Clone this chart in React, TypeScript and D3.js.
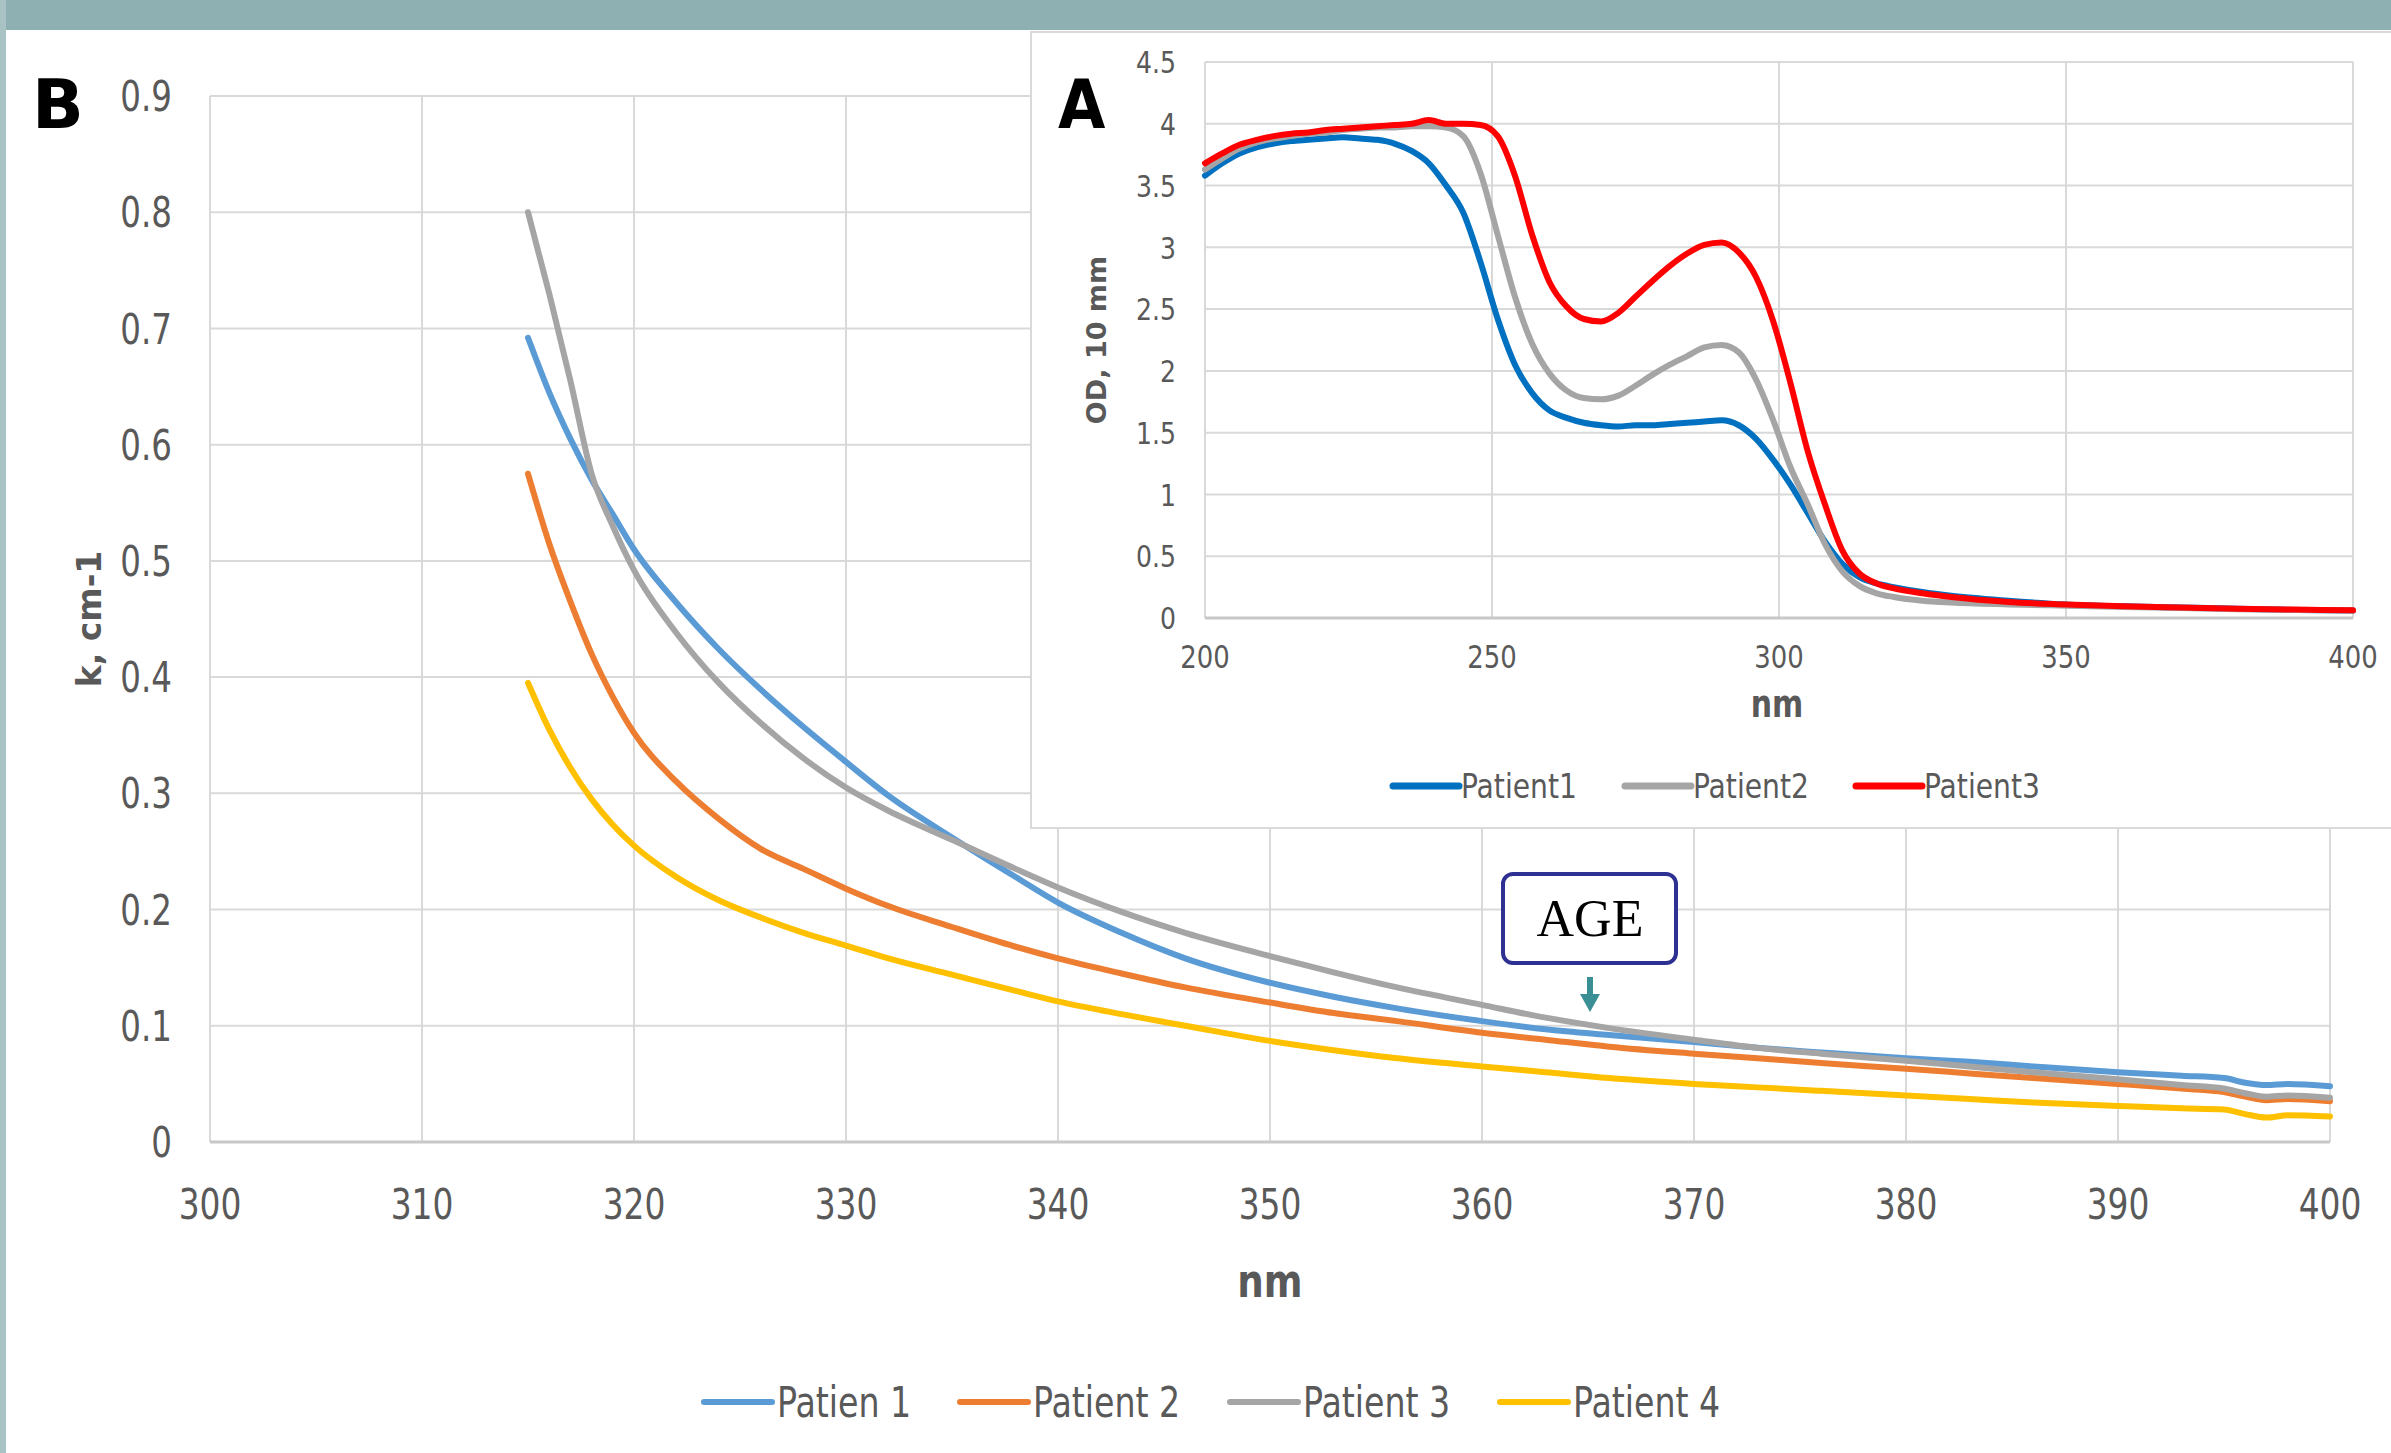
import React from 'react';
import * as d3 from 'd3';

// main chart (B) - absorption coefficient, 315..400 nm
const nmB = [315, 316, 317, 318, 319, 320, 322, 324, 326, 328, 330, 332, 335, 338, 340, 343, 346, 350, 353, 356, 360, 363, 366, 370, 373, 376, 380, 383, 386, 390, 393, 395, 396, 397, 398, 400];
const patien1 = [0.692, 0.645, 0.605, 0.57, 0.54, 0.51, 0.464, 0.424, 0.389, 0.357, 0.327, 0.298, 0.262, 0.228, 0.206, 0.18, 0.158, 0.137, 0.125, 0.115, 0.104, 0.097, 0.092, 0.086, 0.081, 0.077, 0.072, 0.069, 0.065, 0.06, 0.057, 0.055, 0.051, 0.049, 0.05, 0.048];
const patient2 = [0.575, 0.515, 0.465, 0.42, 0.383, 0.352, 0.31, 0.278, 0.252, 0.235, 0.218, 0.203, 0.185, 0.168, 0.158, 0.145, 0.133, 0.12, 0.111, 0.104, 0.094, 0.088, 0.082, 0.076, 0.072, 0.068, 0.063, 0.059, 0.055, 0.05, 0.046, 0.043, 0.039, 0.036, 0.037, 0.035];
const patient3 = [0.8, 0.73, 0.655, 0.575, 0.53, 0.492, 0.438, 0.395, 0.36, 0.33, 0.305, 0.285, 0.26, 0.235, 0.219, 0.198, 0.18, 0.16, 0.146, 0.133, 0.118, 0.107, 0.098, 0.088, 0.081, 0.076, 0.07, 0.065, 0.06, 0.054, 0.049, 0.046, 0.042, 0.039, 0.04, 0.038];
const patient4 = [0.395, 0.355, 0.322, 0.295, 0.273, 0.255, 0.228, 0.208, 0.193, 0.18, 0.169, 0.158, 0.144, 0.13, 0.121, 0.11, 0.1, 0.087, 0.079, 0.072, 0.065, 0.06, 0.055, 0.05, 0.047, 0.044, 0.04, 0.037, 0.034, 0.031, 0.029, 0.028, 0.024, 0.021, 0.023, 0.022];
const seriesB = [
  { name: 'Patien 1', values: patien1, color: '#5b9bd5' },
  { name: 'Patient 2', values: patient2, color: '#ed7d31' },
  { name: 'Patient 3', values: patient3, color: '#a5a5a5' },
  { name: 'Patient 4', values: patient4, color: '#ffc000' },
];
const xTicksB = [300, 310, 320, 330, 340, 350, 360, 370, 380, 390, 400];
const yTicksB = [0, 0.1, 0.2, 0.3, 0.4, 0.5, 0.6, 0.7, 0.8, 0.9];

// inset (A) - optical density, 200..400 nm
const nmA = [200, 203, 206, 209, 212, 215, 218, 221, 224, 227, 230, 233, 236, 239, 242, 245, 248, 251, 254, 257, 260, 263, 266, 269, 272, 275, 278, 281, 284, 287, 290, 293, 296, 299, 302, 305, 308, 311, 314, 317, 320, 325, 330, 340, 350, 360, 370, 380, 390, 400];
const odPatient1 = [3.58, 3.68, 3.76, 3.81, 3.84, 3.86, 3.87, 3.88, 3.89, 3.88, 3.87, 3.84, 3.78, 3.68, 3.5, 3.28, 2.88, 2.42, 2.05, 1.82, 1.68, 1.62, 1.58, 1.56, 1.55, 1.56, 1.56, 1.57, 1.58, 1.59, 1.6, 1.56, 1.45, 1.28, 1.08, 0.85, 0.62, 0.44, 0.33, 0.28, 0.25, 0.21, 0.18, 0.14, 0.11, 0.095, 0.085, 0.075, 0.065, 0.06];
const odPatient2 = [3.63, 3.72, 3.8, 3.85, 3.88, 3.9, 3.92, 3.93, 3.95, 3.96, 3.97, 3.97, 3.98, 3.98, 3.97, 3.9, 3.6, 3.1, 2.6, 2.22, 1.98, 1.84, 1.78, 1.77, 1.8, 1.88, 1.97, 2.05, 2.12, 2.19, 2.21, 2.15, 1.93, 1.6, 1.22, 0.92, 0.6, 0.38, 0.26, 0.2, 0.17, 0.14, 0.125, 0.11, 0.1, 0.09, 0.08, 0.07, 0.065, 0.06];
const odPatient3 = [3.68, 3.76, 3.83, 3.87, 3.9, 3.92, 3.93, 3.95, 3.96, 3.97, 3.98, 3.99, 4.0, 4.03, 4.0, 4.0, 3.99, 3.9, 3.58, 3.1, 2.72, 2.52, 2.42, 2.4, 2.47, 2.6, 2.73, 2.85, 2.95, 3.02, 3.04, 2.96, 2.76, 2.4, 1.9, 1.35, 0.92, 0.55, 0.36, 0.28, 0.24, 0.2, 0.17, 0.13, 0.11, 0.095, 0.085, 0.075, 0.068, 0.062];
const seriesA = [
  { name: 'Patient1', values: odPatient1, color: '#0070c0' },
  { name: 'Patient2', values: odPatient2, color: '#a5a5a5' },
  { name: 'Patient3', values: odPatient3, color: '#ff0000' },
];
const xTicksA = [200, 250, 300, 350, 400];
const yTicksA = [0, 0.5, 1, 1.5, 2, 2.5, 3, 3.5, 4, 4.5];

const W = 2391;
const H = 1453;
const narrow = '"Liberation Sans Narrow", "DejaVu Sans Condensed", "Roboto Condensed", sans-serif';
const wide = '"DejaVu Sans", Verdana, sans-serif';
const textGray = '#595959';
const grid = '#d9d9d9';

// squeezed text, the original uses a tall narrow font
function CText({ x, y, size, sx = 0.85, anchor = 'start', bold = false, mid = false, children }: any) {
  return (
    <text
      transform={`translate(${x},${y}) scale(${sx},1)`}
      dy={mid ? '0.36em' : undefined}
      textAnchor={anchor}
      fontFamily={narrow}
      fontWeight={bold ? 'bold' : 'normal'}
      fontSize={size}
      fill={textGray}
    >
      {children}
    </text>
  );
}

export default function App() {
  // main plot B
  const xB = d3.scaleLinear().domain([300, 400]).range([210, 2330]);
  const yB = d3.scaleLinear().domain([0, 0.9]).range([1142, 96]);
  const lineB = (vals: number[]) =>
    d3.line<number>().x((_, i) => xB(nmB[i])).y(d => yB(d)).curve(d3.curveMonotoneX)(vals) || '';

  // inset A
  const xA = d3.scaleLinear().domain([200, 400]).range([1205, 2353]);
  const yA = d3.scaleLinear().domain([0, 4.5]).range([618, 62]);
  const lineA = (vals: number[]) =>
    d3.line<number>().x((_, i) => xA(nmA[i])).y(d => yA(d)).curve(d3.curveMonotoneX)(vals) || '';

  const legendB = [704, 960, 1230, 1500];
  const legendA = [1393, 1625, 1856];

  return (
    <svg width={W} height={H} style={{ position: 'absolute', left: 0, top: 0, display: 'block', background: '#fff' }}>
      {/* frame */}
      <rect x={0} y={0} width={W} height={30} fill="#8fb0b3" />
      <rect x={0} y={0} width={6} height={H} fill="#a9c3c5" />

      {/* B gridlines */}
      {xTicksB.map(t => (
        <line key={'bx' + t} x1={xB(t)} x2={xB(t)} y1={yB(0.9)} y2={yB(0)} stroke={grid} strokeWidth={2} />
      ))}
      {yTicksB.map(t => (
        <line key={'by' + t} x1={xB(300)} x2={xB(400)} y1={yB(t)} y2={yB(t)} stroke={t === 0 ? '#c8c8c8' : grid} strokeWidth={t === 0 ? 3 : 2} />
      ))}
      {yTicksB.map(t => (
        <CText key={'byl' + t} x={172} y={yB(t)} mid anchor="end" size={42} sx={0.86}>
          {t === 0 ? '0' : t.toFixed(1)}
        </CText>
      ))}
      {xTicksB.map(t => (
        <CText key={'bxl' + t} x={xB(t)} y={1219} anchor="middle" size={43} sx={0.85}>
          {t}
        </CText>
      ))}
      <CText x={1270} y={1297} anchor="middle" size={47} sx={0.88} bold>nm</CText>
      <text transform={`translate(101,${yB(0.45)}) rotate(-90)`} textAnchor="middle" fontFamily={wide} fontWeight="bold" fontSize={33} fill={textGray}>k, cm-1</text>
      <text x={32} y={128} fontFamily={wide} fontWeight="bold" fontSize={68} fill="#000">B</text>

      {seriesB.map(s => (
        <path key={s.name} d={lineB(s.values)} fill="none" stroke={s.color} strokeWidth={6} strokeLinejoin="round" strokeLinecap="round" />
      ))}

      {/* B legend */}
      {seriesB.map((s, i) => (
        <g key={'lb' + s.name} transform={`translate(${legendB[i]},1402)`}>
          <line x1={0} x2={68} y1={0} y2={0} stroke={s.color} strokeWidth={6} strokeLinecap="round" />
          <CText x={73} y={0} mid size={42} sx={0.88}>{s.name}</CText>
        </g>
      ))}

      {/* AGE callout */}
      <rect x={1503} y={874} width={173} height={89} rx={10} ry={10} fill="#fff" stroke="#2e3192" strokeWidth={4} />
      <text x={1590} y={936} textAnchor="middle" fontFamily='"Liberation Serif", "DejaVu Serif", serif' fontSize={52} fill="#000">AGE</text>
      <line x1={1590} x2={1590} y1={977} y2={995} stroke="#3a8f94" strokeWidth={6} />
      <path d="M1580,994 L1600,994 L1590,1012 Z" fill="#3a8f94" />

      {/* inset A */}
      <rect x={1031} y={32} width={1380} height={796} fill="#fff" stroke="#d9d9d9" strokeWidth={2} />
      {xTicksA.map(t => (
        <line key={'ax' + t} x1={xA(t)} x2={xA(t)} y1={yA(4.5)} y2={yA(0)} stroke={grid} strokeWidth={2} />
      ))}
      {yTicksA.map(t => (
        <line key={'ay' + t} x1={xA(200)} x2={xA(400)} y1={yA(t)} y2={yA(t)} stroke={t === 0 ? '#c8c8c8' : grid} strokeWidth={t === 0 ? 3 : 2} />
      ))}
      {yTicksA.map(t => (
        <CText key={'ayl' + t} x={1176} y={yA(t)} mid anchor="end" size={31} sx={0.9}>{t}</CText>
      ))}
      {xTicksA.map(t => (
        <CText key={'axl' + t} x={xA(t)} y={668} anchor="middle" size={32} sx={0.9}>{t}</CText>
      ))}
      <CText x={1777} y={717} anchor="middle" size={37} sx={0.9} bold>nm</CText>
      <text transform={`translate(1106,${yA(2.25)}) rotate(-90)`} textAnchor="middle" fontFamily={wide} fontWeight="bold" fontSize={27} fill={textGray}>OD, 10 mm</text>
      <text x={1058} y={128} fontFamily={narrow} fontWeight="bold" fontSize={68} fill="#000">A</text>

      {seriesA.map(s => (
        <path key={s.name} d={lineA(s.values)} fill="none" stroke={s.color} strokeWidth={6} strokeLinejoin="round" strokeLinecap="round" />
      ))}
      {seriesA.map((s, i) => (
        <g key={'la' + s.name} transform={`translate(${legendA[i]},786)`}>
          <line x1={0} x2={66} y1={0} y2={0} stroke={s.color} strokeWidth={7} strokeLinecap="round" />
          <CText x={68} y={0} mid size={33} sx={0.95}>{s.name}</CText>
        </g>
      ))}
    </svg>
  );
}
